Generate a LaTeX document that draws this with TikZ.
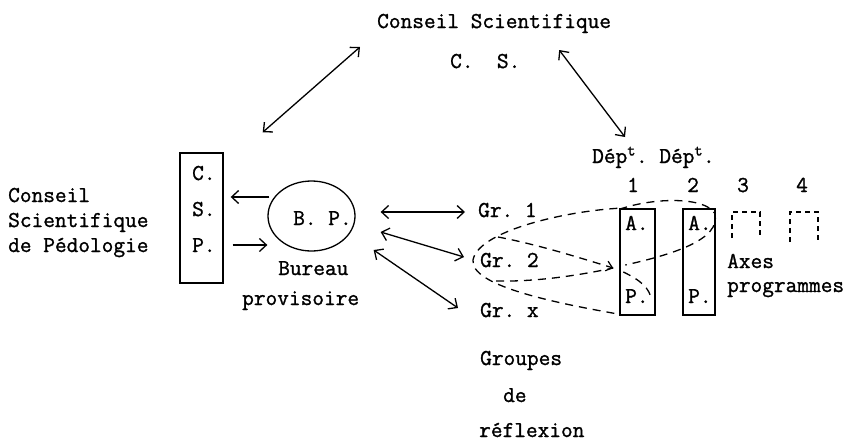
\documentclass[tikz,border=0pt]{standalone}
\usepackage{fontspec}
\newfontfamily\tw{Latin Modern Mono}[FakeBold=1.2]
\usetikzlibrary{arrows.meta,shapes.geometric,calc}
\begin{document}
\begin{tikzpicture}[x=1pt,y=-1pt,
  txt/.style={font=\tw\fontsize{22.7}{25}\selectfont, inner sep=0pt, anchor=base west},
  barb/.tip={Straight Barb[length=7pt,width=13pt,line width=1.3pt]},
  arr/.style={line width=1.3pt, barb-barb},
  onearr/.style={line width=1.2pt, -barb},
  boxx/.style={draw, line width=1.4pt, inner sep=0pt},
  dsh/.style={line width=1.3pt, dash pattern=on 8pt off 6pt},
  dshs/.style={line width=1.2pt, dash pattern=on 5pt off 4pt}]
\useasboundingbox[fill=white] (0,0) rectangle (850,442);

% top
\node[txt] (cs) at (377,28) {Conseil Scientifique};
\node[txt] (csab) at (450,68) {C.~~S.};

% left
\node[txt] (cspl) at (8,202) {Conseil};
\node[txt] (cspl2) at (8,227) {Scientifique};
\node[txt] (cspl3) at (8,252) {de Pédologie};
\node[boxx, minimum width=43pt, minimum height=130pt] (csp) at (201.5,218) {};
\node[txt] (lc) at (192,180) {C.};
\node[txt] (ls) at (192,216) {S.};
\node[txt] (lp) at (192,252) {P.};

% bureau
\node[draw, ellipse, line width=1.3pt, minimum width=87pt, minimum height=70pt, inner sep=0pt] (bp) at (311.5,216) {};
\node[txt] (bpt) at (293,225) {B.~P.};
\node[txt] (bur) at (278,275) {Bureau};
\node[txt] (prov) at (242,305) {provisoire};

% groups
\node[txt] (g1) at (478,217) {Gr.~1};
\node[txt] (g2) at (480,267) {Gr.~2};
\node[txt] (gx) at (480,317) {Gr.~x};
\node[txt] (grp) at (480,365) {Groupes};
\node[txt] (gde) at (503,402) {de};
\node[txt] (grf) at (479,437) {réflexion};

% departments
\node[txt] (dep) at (592,163) {Dép\textsuperscript{t}.~Dép\textsuperscript{t}.};
\node[txt, anchor=base] (n1) at (633,192) {1};
\node[txt, anchor=base] (n2) at (693,192) {2};
\node[txt, anchor=base] (n3) at (743,192) {3};
\node[txt, anchor=base] (n4) at (802,192) {4};
\node[boxx, minimum width=35pt, minimum height=106pt] (d1) at (637.5,262) {};
\node[boxx, minimum width=32pt, minimum height=106pt] (d2) at (699,262) {};
\node[txt] (a1) at (625,230) {A.};
\node[txt] (p1) at (625,303) {P.};
\node[txt] (a2) at (688,230) {A.};
\node[txt] (p2) at (688,303) {P.};
\node[txt] (axe) at (727,268) {Axes};
\node[txt] (prg) at (727,292) {programmes};

% dashed axes boxes
\draw[dshs] (732,238) -- (732,212) -- (760,212) -- (760,238);
\draw[dshs] (790,242) -- (790,212) -- (818,212) -- (818,242);

% solid arrows
\draw[arr] ($(cs.base west)+(-17,19)$) -- ($(csp.north east)+(39,-20)$);
\draw[arr] ($(cs.base east)+(-52,22)$) -- ($(dep.base west)+(33,-26)$);
\draw[onearr] ($(bp.west)+(2,-19)$) -- ($(csp.east)+(7,-21)$);
\draw[onearr] ($(csp.east)+(9,27)$) -- ($(bp.west)+(0,29)$);
\draw[arr] ($(bp.east)+(25,-4)$) -- ($(g1.base west)+(-13,-5)$);
\draw[arr] ($(bp.east)+(25,16)$) -- ($(g2.base west)+(-16,-10)$);
\draw[arr] ($(bp.east)+(18,34)$) -- ($(gx.base west)+(-22,-9)$);

% dashed curves
\coordinate (c2a) at (498,237);
\coordinate (c2b) at (496,281);
\draw[dsh] ($(d1.north west)+(-2,0)$) .. controls (560,212) and (478,232) .. (473,260)
   .. controls (470,285) and (550,302) .. ($(d1.south west)+(-3,-2)$);
\draw[dsh, -{Straight Barb[length=6pt,width=10pt,line width=1.2pt]}] (c2a) .. controls (540,245) and (580,258) .. ($(d1.west)+(-6,6)$);
\draw[dsh] (c2b) .. controls (540,282) and (585,274) .. ($(d1.west)+(-6,6)$);
\draw[dsh] ($(d1.north west)+(0,1)$) .. controls (655,197) and (705,197) .. ($(d2.north east)+(-1,5)$)
   .. controls (722,240) and (670,255) .. ($(d1.west)+(6,3)$);
\draw[dsh] ($(d1.west)+(4,10)$) .. controls (640,280) and (650,288) .. ($(d1.west)+(32,38)$);
\end{tikzpicture}
\end{document}
